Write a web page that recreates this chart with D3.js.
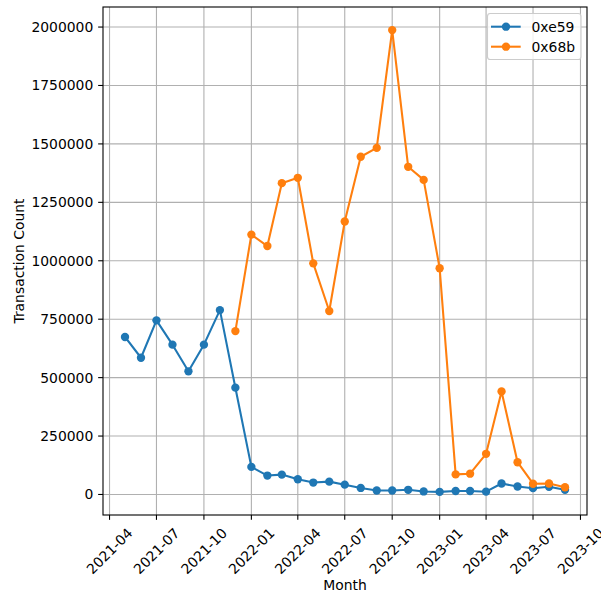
<!DOCTYPE html>
<html>
<head>
<meta charset="utf-8">
<script src="https://cdn.jsdelivr.net/npm/d3@7"></script>
<style>
  html, body { margin: 0; padding: 0; background: #fff; }
  svg { display: block; }
  text { font-family: "DejaVu Sans", sans-serif; }
</style>
</head>
<body>
<svg id="chart" width="601" height="595"></svg>
<script>
// ---- data ----
const blueMonths = ["2021-05","2021-06","2021-07","2021-08","2021-09","2021-10","2021-11","2021-12",
  "2022-01","2022-02","2022-03","2022-04","2022-05","2022-06","2022-07","2022-08","2022-09","2022-10",
  "2022-11","2022-12","2023-01","2023-02","2023-03","2023-04","2023-05","2023-06","2023-07","2023-08","2023-09"];
const blueValues = [674000, 585000, 745000, 641000, 527000, 641000, 789000, 457000,
  118000, 81000, 85000, 65000, 51000, 55000, 42000, 28000, 17000, 17000,
  20000, 13000, 11000, 15000, 15000, 12000, 47000, 34000, 27000, 33000, 20000];
const orangeMonths = ["2021-12","2022-01","2022-02","2022-03","2022-04","2022-05","2022-06","2022-07",
  "2022-08","2022-09","2022-10","2022-11","2022-12","2023-01","2023-02","2023-03","2023-04","2023-05",
  "2023-06","2023-07","2023-08","2023-09"];
const orangeValues = [699000, 1112000, 1063000, 1332000, 1355000, 989000, 785000, 1168000,
  1445000, 1483000, 1987000, 1402000, 1346000, 968000, 86000, 89000, 174000, 441000,
  138000, 46000, 47000, 31000];
const seriesNames = ["0xe59", "0x68b"];
const seriesColors = ["#1f77b4", "#ff7f0e"];
const yTicks = [0, 250000, 500000, 750000, 1000000, 1250000, 1500000, 1750000, 2000000];
const xLabel = "Month";
const yLabel = "Transaction Count";

// ---- layout ----
const L = 103, R = 587, T = 7, B = 515;
const FS = 13.9;
const parse = d3.utcParse("%Y-%m");
const series = [
  { name: seriesNames[0], color: seriesColors[0], pts: blueMonths.map((m, i) => ({ d: parse(m), v: blueValues[i] })) },
  { name: seriesNames[1], color: seriesColors[1], pts: orangeMonths.map((m, i) => ({ d: parse(m), v: orangeValues[i] })) }
];

const allDates = series.flatMap(s => s.pts.map(p => +p.d));
const dMin = d3.min(allDates), dMax = d3.max(allDates);
const dPad = (dMax - dMin) * 0.05;
const x = d3.scaleUtc().domain([new Date(dMin - dPad), new Date(dMax + dPad)]).range([L, R]);

const allV = series.flatMap(s => s.pts.map(p => p.v));
const vMin = d3.min(allV), vMax = d3.max(allV);
const vPad = (vMax - vMin) * 0.05;
const y = d3.scaleLinear().domain([vMin - vPad, vMax + vPad]).range([B, T]);

const svg = d3.select("#chart");
const xTicks = x.ticks(d3.utcMonth.every(3));
const fmt = d3.utcFormat("%Y-%m");

// grid
const grid = svg.append("g").attr("stroke", "#b0b0b0").attr("stroke-width", 1.1);
grid.selectAll("line.gx").data(xTicks).join("line")
  .attr("x1", d => x(d)).attr("x2", d => x(d)).attr("y1", T).attr("y2", B);
grid.selectAll("line.gy").data(yTicks).join("line")
  .attr("x1", L).attr("x2", R).attr("y1", d => y(d)).attr("y2", d => y(d));

// lines and markers
const line = d3.line().x(p => x(p.d)).y(p => y(p.v));
series.forEach(s => {
  svg.append("path").datum(s.pts).attr("d", line)
    .attr("fill", "none").attr("stroke", s.color).attr("stroke-width", 2.08)
    .attr("stroke-linejoin", "round").attr("stroke-linecap", "square");
  svg.append("g").selectAll("circle").data(s.pts).join("circle")
    .attr("cx", p => x(p.d)).attr("cy", p => y(p.v)).attr("r", 4.17)
    .attr("fill", s.color);
});

// spines
svg.append("rect").attr("x", L).attr("y", T).attr("width", R - L).attr("height", B - T)
  .attr("fill", "none").attr("stroke", "#000").attr("stroke-width", 1.1);

// x axis ticks
const tl = 4.86, pad = 4.86;
const xg = svg.append("g");
xTicks.forEach(t => {
  const px = x(t);
  xg.append("line").attr("x1", px).attr("x2", px).attr("y1", B).attr("y2", B + tl)
    .attr("stroke", "#000").attr("stroke-width", 1.1);
  const txt = xg.append("text").text(fmt(t)).attr("font-size", FS)
    .attr("text-anchor", "middle").attr("dominant-baseline", "central");
  const w = txt.node().getComputedTextLength();
  const h = FS * 1.164;
  const cy = B + tl + pad + (w + h) / (2 * Math.SQRT2);
  txt.attr("x", px).attr("y", cy).attr("transform", `rotate(-45,${px},${cy})`);
});

// y axis ticks
const yg = svg.append("g");
yTicks.forEach(t => {
  const py = y(t);
  yg.append("line").attr("x1", L - tl).attr("x2", L).attr("y1", py).attr("y2", py)
    .attr("stroke", "#000").attr("stroke-width", 1.1);
  yg.append("text").text(d3.format("d")(t)).attr("font-size", FS)
    .attr("x", L - tl - pad).attr("y", py).attr("text-anchor", "end")
    .attr("dominant-baseline", "central");
});

// axis labels
svg.append("text").text(xLabel).attr("font-size", FS).attr("x", (L + R) / 2).attr("y", 590)
  .attr("text-anchor", "middle");
svg.append("text").text(yLabel).attr("font-size", FS)
  .attr("transform", `translate(18.5,${(T + B) / 2}) rotate(-90)`)
  .attr("text-anchor", "middle").attr("dominant-baseline", "central");

// legend
const lg = svg.append("g");
lg.append("rect").attr("x", 487.5).attr("y", 13.5).attr("width", 93.5).attr("height", 46)
  .attr("rx", 2.8).attr("fill", "#fff").attr("fill-opacity", 0.8)
  .attr("stroke", "#cccccc").attr("stroke-width", 1.1);
series.forEach((s, i) => {
  const ly = 26.7 + i * 20;
  lg.append("line").attr("x1", 491).attr("x2", 520.7).attr("y1", ly).attr("y2", ly)
    .attr("stroke", s.color).attr("stroke-width", 2.08);
  lg.append("circle").attr("cx", 506).attr("cy", ly).attr("r", 4.17).attr("fill", s.color);
  lg.append("text").text(s.name).attr("font-size", FS).attr("x", 531.5).attr("y", ly)
    .attr("dominant-baseline", "central");
});
</script>
</body>
</html>
